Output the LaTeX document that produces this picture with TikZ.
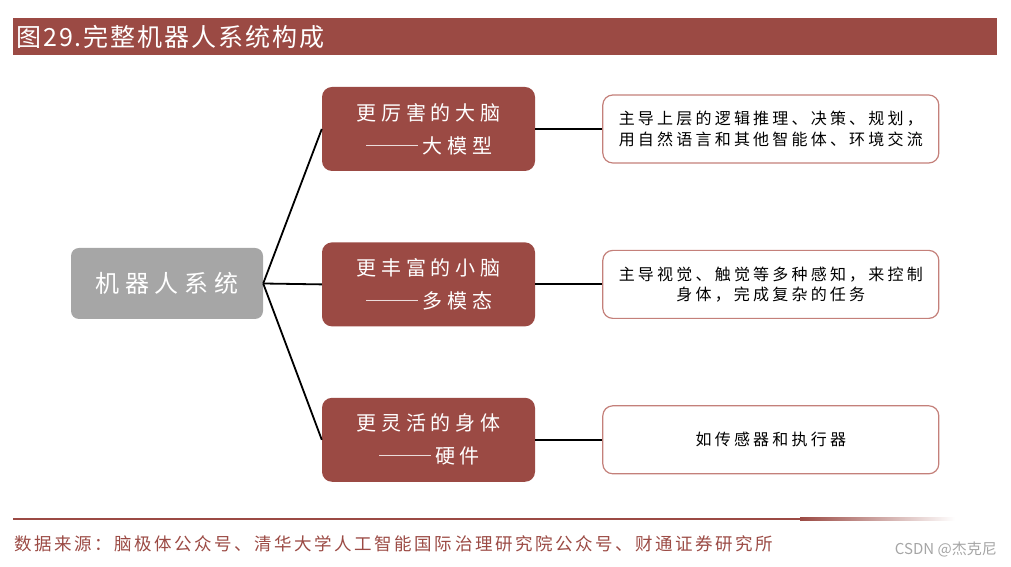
\documentclass[tikz,border=0pt]{standalone}
\usepackage{fontspec}
\setmainfont{Noto Sans CJK SC}
\newfontfamily\wideA[LetterSpace=24]{Noto Sans CJK SC}
\newfontfamily\wideB[LetterSpace=20]{Noto Sans CJK SC}
\newfontfamily\wideC[LetterSpace=14.5]{Noto Sans CJK SC}
\newfontfamily\wideT[LetterSpace=8]{Noto Sans CJK SC}
\newfontfamily\dashfont[RawFeature=+fwid]{Noto Sans CJK SC}
\newcommand{\longdash}{\scalebox{1.4}[1]{\dashfont ——}\hspace{0.1em}}
\usetikzlibrary{positioning}
\definecolor{cBrick}{RGB}{155,74,68}
\definecolor{cGrey}{RGB}{166,166,166}
\definecolor{cEdge}{RGB}{196,128,122}
\definecolor{cMark}{RGB}{165,165,165}

\begin{document}
\begin{tikzpicture}[x=1pt, y=1pt,
  sysbox/.style={fill=cGrey, text=white, rounded corners=8pt, minimum width=192pt, minimum height=71pt, inner sep=0pt, font=\wideA\fontsize{24}{28}\selectfont},
  partbox/.style={fill=cBrick, text=white, rounded corners=10pt, minimum width=213pt, minimum height=84pt, inner sep=0pt, align=center, font=\wideA\fontsize{20}{33}\selectfont},
  infobox/.style={draw=cEdge, line width=1.2pt, fill=white, rounded corners=10pt, minimum width=336pt, minimum height=68pt, inner sep=0pt, align=center, font=\wideB\fontsize{16}{20.5}\selectfont},
  conn/.style={line width=1.8pt, black}]
  \useasboundingbox (0,0) rectangle (1011,567);
  % title bar
  \fill[cBrick] (13,512) rectangle (997,549);
  \node[anchor=west, text=white, inner sep=0pt, font=\wideT\fontsize{25}{28}\selectfont] (title) at (16,530.5) {图29.完整机器人系统构成};
  % tree
  \node[sysbox] (sys) at (167,283.5) {机器人系统};
  \node[partbox] (brain) at (428.5,438) {更厉害的大脑\\\longdash 大模型};
  \node[partbox, below=71pt of brain] (cere) {更丰富的小脑\\\longdash 多模态};
  \node[partbox, below=71pt of cere] (body) {更灵活的身体\\\longdash 硬件};
  \node[infobox, right=67pt of brain] (dbrain) {主导上层的逻辑推理、决策、规划，\\用自然语言和其他智能体、环境交流};
  \node[infobox, right=67pt of cere] (dcere) {主导视觉、触觉等多种感知，来控制\\身体，完成复杂的任务};
  \node[infobox, right=67pt of body] (dbody) {如传感器和执行器};
  \foreach \p in {brain, cere, body} {
    \draw[conn] (sys.east) -- (\p.west);
    \draw[conn] (\p.east) -- (d\p.west);
  }
  % source line
  \draw[cBrick, line width=2.5pt] (13,48) -- (800,48);
  \shade[left color=cBrick, right color=white] (800,46.75) rectangle (955,49.25);
  \node[anchor=west, text=cBrick, inner sep=0pt, font=\wideC\fontsize{17.5}{20}\selectfont] (src) at (14,23) {数据来源：脑极体公众号、清华大学人工智能国际治理研究院公众号、财通证券研究所};
  \node[anchor=east, text=cMark, inner sep=0pt, font=\fontsize{15}{17}\selectfont] (mark) at (997,18) {CSDN @杰克尼};
\end{tikzpicture}
\end{document}
